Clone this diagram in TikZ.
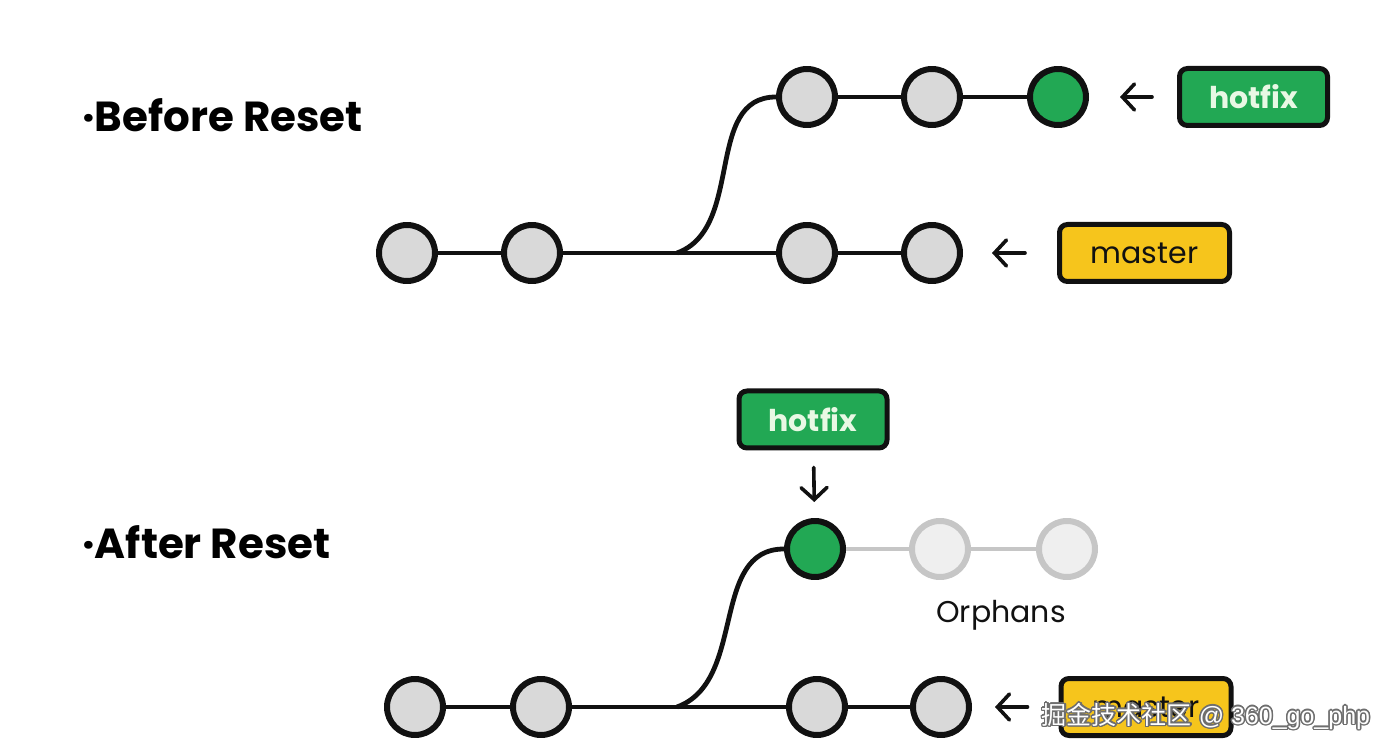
\documentclass[tikz,border=0pt]{standalone}
\usepackage{fontspec}
\setmainfont{Poppins}
\newfontfamily\cjkfont{Noto Sans CJK SC}
\newfontfamily\markfont{Liberation Sans}
\usepackage[copies]{contour}
\contourlength{0.7pt}
\usetikzlibrary{arrows.meta, positioning}
\definecolor{gtline}{HTML}{111111}
\definecolor{gtgray}{HTML}{D9D9D9}
\definecolor{gtgreen}{HTML}{22A854}
\definecolor{gtyellow}{HTML}{F6C51C}
\definecolor{gttext}{HTML}{E8F8E4}
\definecolor{gtorphan}{HTML}{EFEFEF}
\definecolor{gtorphanline}{HTML}{C6C6C6}
\definecolor{gtmark}{HTML}{6E6E6E}
\tikzset{
  every picture/.style={line join=round},
  commit/.style={circle, draw=gtline, fill=gtgray, line width=3pt,
    minimum size=28pt, inner sep=0pt},
  head/.style={commit, fill=gtgreen},
  orphan/.style={commit, draw=gtorphanline, fill=gtorphan},
  hist/.style={draw=gtline, line width=2.4pt},
  lost/.style={draw=gtorphanline, line width=2.4pt},
  tagbox/.style={rectangle, rounded corners=4pt, draw=gtline, line width=2.5pt,
    minimum height=28.5pt, inner sep=0pt},
  hotfixtag/.style={tagbox, fill=gtgreen, text=gttext, minimum width=74pt,
    font=\bfseries\fontsize{15}{18}\selectfont},
  mastertag/.style={tagbox, fill=gtyellow, text=gtline, minimum width=85pt,
    font=\fontsize{15}{18}\selectfont},
  ptr/.style={-{Straight Barb[length=6pt, width=13pt, line cap=round]}, draw=gtline,
    line width=1.8pt, line cap=round},
  title/.style={font=\bfseries\fontsize{21}{25}\selectfont, anchor=base west, inner sep=0pt},
  note/.style={font=\fontsize{15}{18}\selectfont, text=gtline, anchor=base, inner sep=0pt},
}

\begin{document}
\begin{tikzpicture}[x=0.5pt, y=-0.5pt]
\fill[white] (0,0) rectangle (1394,754);
\useasboundingbox (0,0) rectangle (1394,754);

% ---- before reset
\node[title] (before) at (82,132) {·Before Reset};
\foreach \name/\x in {mA/407, mB/532, mC/807, mD/932} {
  \node[commit] (\name) at (\x,253) {};
}
\node[commit] (hA) at (807,97) {};
\node[commit] (hB) at (932,97) {};
\node[head] (hC) at (1058,97) {};
\coordinate (forkA) at (677,253);
\draw[hist] (mA) -- (mB) -- (mC) -- (mD);
\draw[hist] (forkA) to[out=20, in=180] (hA);
\draw[hist] (hA) -- (hB) -- (hC);

\node[hotfixtag] (hotfixA) at (1253.5,97) {hotfix};
\node[mastertag] (masterA) at (1144.5,253) {master};
\draw[ptr, shorten <=12.5pt, shorten >=15.5pt] (hotfixA) -- (hC);
\draw[ptr, shorten <=16pt, shorten >=14.5pt] (masterA) -- (mD);

% ---- after reset
\node[title] (after) at (82,559) {·After Reset};
\foreach \name/\x in {nA/415, nB/541, nC/817, nD/941} {
  \node[commit] (\name) at (\x,707) {};
}
\node[head] (gA) at (815,549) {};
\node[orphan] (oA) at (940,549) {};
\node[orphan] (oB) at (1067,549) {};
\coordinate (forkB) at (677,707);
\draw[hist] (nA) -- (nB) -- (nC) -- (nD);
\draw[hist] (forkB) to[out=20, in=180] (gA);
\draw[lost] (gA) -- (oA) -- (oB);
\node[note] (orphans) at (1001,623) {Orphans};

\node[hotfixtag] (hotfixB) at (813,419.5) {hotfix};
\node[mastertag] (masterB) at (1146,707) {master};
\draw[ptr, shorten <=8.5pt, shorten >=8pt] (hotfixB) -- (gA);
\draw[ptr, shorten <=15.5pt, shorten >=11.5pt] (masterB) -- (nD);

% ---- watermark
\node[text=white, inner sep=0pt] (mark) at (1206,717)
  {\contour{gtmark}{\fontsize{12.5}{15}\selectfont\cjkfont 掘金技术社区\markfont{} @ 360\_go\_php}};

\end{tikzpicture}
\end{document}
